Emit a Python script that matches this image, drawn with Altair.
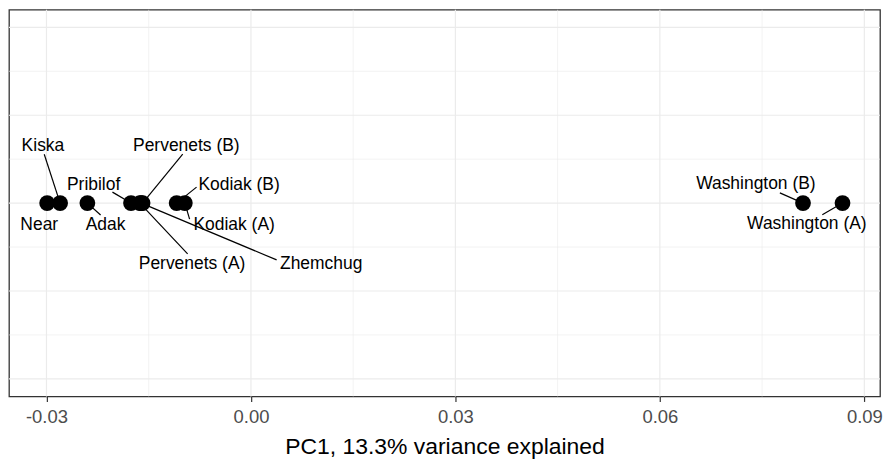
import altair as alt
import pandas as pd

# Point data (PC1 scores; all plotted on a single line y = 0)
names = ["Near", "Kiska", "Adak", "Pribilof", "Pervenets (A)", "Zhemchug",
         "Pervenets (B)", "Kodiak (B)", "Kodiak (A)", "Washington (B)", "Washington (A)"]
pc1 = [-0.0299, -0.0280, -0.0240, -0.0176, -0.0163, -0.0161,
       -0.0159, -0.0109, -0.0097, 0.0810, 0.0868]
yval = [0.0] * len(names)

# Repelled label positions (data units)
label_x = [-0.03106, -0.03052, -0.02134, -0.02308, -0.00864, 0.01031,
           -0.00948, -0.00174, -0.00247, 0.07409, 0.08157]
label_y = [-0.0624, 0.1636, -0.0624, 0.051, -0.1721, -0.1721,
           0.1636, 0.051, -0.0624, 0.053, -0.0587]

# Leader segment starting points (data units); None = no segment
seg_x = [None, -0.03033, -0.02206, -0.02032, -0.00929, 0.00377,
         -0.01001, -0.00798, -0.00900, 0.07761, 0.08383]
seg_y = [None, 0.139, -0.034, 0.0312, -0.1446, -0.1616,
         0.139, 0.0454, -0.0454, 0.0292, -0.0332]

x_ticks = [-0.03, 0.00, 0.03, 0.06, 0.09]
x_minor = [-0.015, 0.015, 0.045, 0.075]
y_major = [-0.5, -0.25, 0.0, 0.25, 0.5]
y_minor = [-0.375, -0.125, 0.125, 0.375]

x_domain = [-0.0355, 0.0923]
y_domain = [-0.55, 0.55]

pts = pd.DataFrame({"name": names, "pc1": pc1, "y": yval,
                    "lx": label_x, "ly": label_y, "sx": seg_x, "sy": seg_y})
segs = pts.dropna(subset=["sx"])

xs = alt.Scale(domain=x_domain, nice=False, zero=False)
ys = alt.Scale(domain=y_domain, nice=False, zero=False)

xaxis = alt.Axis(values=x_ticks, grid=False, domain=False,
                 labelExpr="replace(format(datum.value, '.2f'), '\u2212', '-')",
                 title="PC1, 13.3% variance explained",
                 labelFont="Liberation Sans", labelFontSize=18.5, labelColor="#4D4D4D",
                 labelPadding=6, tickColor="#333333", tickSize=5, tickWidth=1.2,
                 titleFont="Liberation Sans", titleFontSize=23, titleFontWeight="normal",
                 titleColor="#000000", titlePadding=10)

grid_col = "#EBEBEB"

def vgrid(vals, w):
    return alt.Chart(pd.DataFrame({"v": vals})).mark_rule(color=grid_col, strokeWidth=w).encode(
        x=alt.X("v:Q", scale=xs, axis=xaxis))

def hgrid(vals, w):
    return alt.Chart(pd.DataFrame({"v": vals})).mark_rule(color=grid_col, strokeWidth=w).encode(
        y=alt.Y("v:Q", scale=ys, axis=None))

seg_layer = alt.Chart(segs).mark_rule(color="#000000", strokeWidth=1.2).encode(
    x=alt.X("sx:Q", scale=xs, axis=xaxis), x2="pc1:Q",
    y=alt.Y("sy:Q", scale=ys, axis=None), y2="y:Q")

point_layer = alt.Chart(pts).mark_circle(color="#000000", opacity=1, size=250).encode(
    x=alt.X("pc1:Q", scale=xs, axis=xaxis), y=alt.Y("y:Q", scale=ys, axis=None))

text_layer = alt.Chart(pts).mark_text(font="Liberation Sans", fontSize=17.5, color="#000000",
                                      align="center", baseline="middle").encode(
    x=alt.X("lx:Q", scale=xs, axis=xaxis), y=alt.Y("ly:Q", scale=ys, axis=None), text="name:N")

chart = alt.layer(
    vgrid(x_minor, 0.6), hgrid(y_minor, 0.6), vgrid(x_ticks, 1.2), hgrid(y_major, 1.2),
    seg_layer, point_layer, text_layer
).properties(
    width=874, height=388,
    padding={"left": 0, "top": 0, "right": 0, "bottom": 0},
    background="white"
).configure_view(stroke="#333333", strokeWidth=1.3)

chart.save("out.html", embed_options={"renderer": "svg", "actions": False})
